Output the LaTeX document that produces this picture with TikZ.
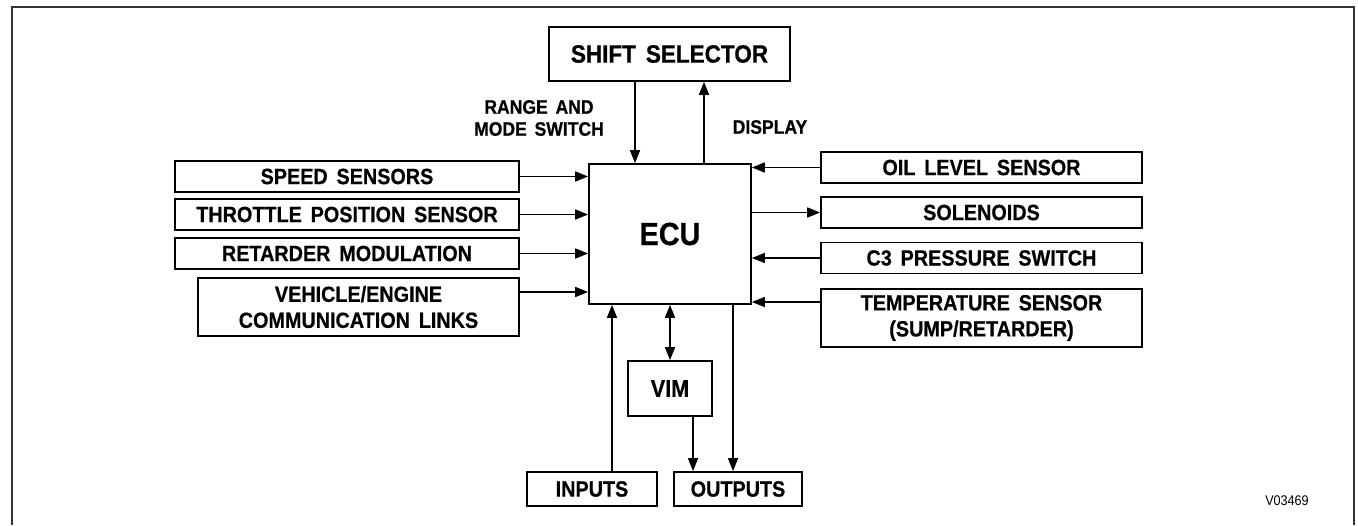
\documentclass[tikz,border=0pt]{standalone}
\usepackage{fontspec}
\newfontfamily\lab[FakeStretch=0.9,WordSpace=1.6,FakeBold=0.6]{Liberation Sans}
\newfontfamily\labreg[FakeStretch=0.9]{Liberation Sans}
\usetikzlibrary{arrows.meta}
\begin{document}
\begin{tikzpicture}[x=1pt,y=-1pt,
  box/.style={draw,line width=1.7pt,inner sep=0pt,align=center,
    font=\lab\bfseries\fontsize{22}{26}\selectfont},
  lbl/.style={inner sep=0pt,align=center,font=\lab\bfseries\fontsize{19.5}{22}\selectfont},
  conn/.style={line width=1.6pt,-{Triangle[length=13pt,width=10pt]}},
  both/.style={line width=1.6pt,{Triangle[length=13pt,width=10pt]}-{Triangle[length=13pt,width=10pt]}},
]
\useasboundingbox (0,0) rectangle (1358,525);
\draw[line width=1.3pt,black!80] (12,525) -- (12,7) -- (1354,7) -- (1354,525);

% boxes
\node[box,minimum width=241pt,minimum height=54pt,font=\lab\bfseries\fontsize{25}{28}\selectfont] (shift) at (669.5,54) {SHIFT SELECTOR};
\node[box,minimum width=162pt,minimum height=140pt,font=\lab\bfseries\fontsize{32}{36}\selectfont] (ecu) at (670,234) {ECU};

\node[box,minimum width=344pt,minimum height=31pt] (speed) at (347,176.5) {SPEED SENSORS};
\node[box,minimum width=344pt,minimum height=31pt] (throttle) at (347,214.5) {THROTTLE POSITION SENSOR};
\node[box,minimum width=344pt,minimum height=31pt] (retarder) at (347,253.5) {RETARDER MODULATION};
\node[box,minimum width=321pt,minimum height=58pt] (vehicle) at (358.5,307) {VEHICLE/ENGINE\\COMMUNICATION LINKS};

\node[box,minimum width=321pt,minimum height=31pt] (oil) at (981.5,167.5) {OIL LEVEL SENSOR};
\node[box,minimum width=321pt,minimum height=31pt] (sol) at (981.5,212.5) {SOLENOIDS};
\node[box,minimum width=321pt,minimum height=31pt] (c3) at (981.5,258) {C3 PRESSURE SWITCH};
\node[box,minimum width=321pt,minimum height=58pt] (temp) at (981.5,318) {TEMPERATURE SENSOR\\(SUMP/RETARDER)};

\node[box,minimum width=84pt,minimum height=55pt,font=\lab\bfseries\fontsize{24}{28}\selectfont] (vim) at (670,388.5) {VIM};
\node[box,minimum width=130pt,minimum height=34pt] (inputs) at (592,489) {INPUTS};
\node[box,minimum width=128pt,minimum height=34pt] (outputs) at (738,489) {OUTPUTS};

% labels
\node[lbl] (range) at (539,118) {RANGE AND\\MODE SWITCH};
\node[lbl] (display) at (770,127) {DISPLAY};
\node[inner sep=0pt,font=\labreg\fontsize{14}{16}\selectfont] (code) at (1287,501) {V03469};

% helper coordinates
\coordinate (rx) at (635,0);
\coordinate (dx) at (704,0);
\coordinate (vy) at (0,292);
\coordinate (ty) at (0,302);
\coordinate (ix) at (612,0);
\coordinate (vx) at (693,0);
\coordinate (ox) at (733,0);

% connectors
\draw[conn] (shift.south -| rx) -- (ecu.north -| rx);
\draw[conn] (ecu.north -| dx) -- (shift.south -| dx);

\draw[conn] (speed.east) -- (speed.east -| ecu.west);
\draw[conn] (throttle.east) -- (throttle.east -| ecu.west);
\draw[conn] (retarder.east) -- (retarder.east -| ecu.west);
\draw[conn] (vehicle.east |- vy) -- (ecu.west |- vy);

\draw[conn] (oil.west) -- (oil.west -| ecu.east);
\draw[conn] (sol.west -| ecu.east) -- (sol.west);
\draw[conn] (c3.west) -- (c3.west -| ecu.east);
\draw[conn] (temp.west |- ty) -- (ecu.east |- ty);

\draw[conn] (inputs.north -| ix) -- (ecu.south -| ix);
\draw[both] (ecu.south -| vim.north) -- (vim.north);
\draw[conn] (vim.south -| vx) -- (outputs.north -| vx);
\draw[conn] (ecu.south -| ox) -- (outputs.north -| ox);
\end{tikzpicture}
\end{document}
